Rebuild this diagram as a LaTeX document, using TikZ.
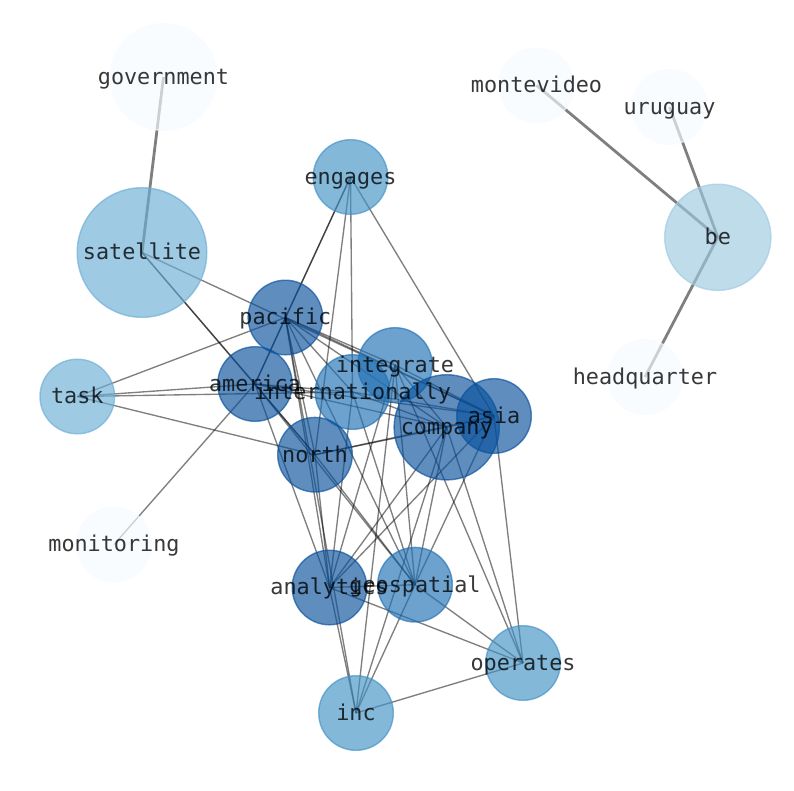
\documentclass[tikz,border=0pt]{standalone}
\usepackage{fontspec}
\newfontfamily\labfont{DejaVu Sans Mono}
\definecolor{bl0}{RGB}{247,251,255}
\definecolor{bl1}{RGB}{158,202,225}
\definecolor{bl2}{RGB}{107,174,214}
\definecolor{bl3}{RGB}{66,146,198}
\definecolor{bl4}{RGB}{33,113,181}
\definecolor{bl5}{RGB}{8,81,156}
\begin{document}
\begin{tikzpicture}[x=1pt,y=-1pt,
  ed/.style={draw=black,draw opacity=0.5,line width=1.35pt},
  edthick/.style={draw=black,draw opacity=0.5,line width=2.8pt},
  vtx/.style={circle,inner sep=0pt,fill opacity=0.65,draw opacity=0.65,line width=1.4pt},
  lab/.style={inner sep=0pt,text=black,text opacity=0.78,text height=20pt,text depth=5.2pt,
    font=\labfont\fontsize{21.8}{26}\selectfont}]
\fill[white] (0,0) rectangle (794,790);
\useasboundingbox (0,0) rectangle (794,790);
% centres
\coordinate (government) at (163.5,77);
\coordinate (satellite) at (142,252.5);
\coordinate (engages) at (350.5,177);
\coordinate (montevideo) at (536.5,85.3);
\coordinate (uruguay) at (669.5,107);
\coordinate (be) at (717.8,237.3);
\coordinate (pacific) at (285.4,317.5);
\coordinate (integrate) at (395,365);
\coordinate (task) at (77.3,396.5);
\coordinate (america) at (255,384);
\coordinate (internationally) at (352.5,392);
\coordinate (company) at (446.7,427.3);
\coordinate (asia) at (494,416);
\coordinate (headquarter) at (645,377);
\coordinate (north) at (315,454.7);
\coordinate (monitoring) at (114,544.5);
\coordinate (analytics) at (329.5,587.5);
\coordinate (geospatial) at (415,584.7);
\coordinate (operates) at (523,663);
\coordinate (inc) at (356,713);
% edges
\draw[edthick] (government) -- (satellite);
\draw[edthick] (montevideo) -- (be);
\draw[edthick] (uruguay) -- (be);
\draw[edthick] (headquarter) -- (be);
\foreach \a/\b in {satellite/america,satellite/north,satellite/asia,
  engages/pacific,engages/america,engages/north,engages/internationally,engages/asia,
  task/pacific,task/america,task/internationally,task/north,
  monitoring/america,
  pacific/america,pacific/integrate,pacific/internationally,pacific/company,pacific/asia,pacific/north,pacific/analytics,pacific/geospatial,pacific/inc,
  america/internationally,america/north,america/asia,america/company,america/analytics,america/geospatial,
  north/company,north/asia,north/analytics,north/geospatial,
  integrate/asia,integrate/company,integrate/analytics,integrate/geospatial,integrate/inc,integrate/operates,
  internationally/company,internationally/asia,internationally/analytics,internationally/geospatial,
  company/asia,company/analytics,company/geospatial,company/inc,company/operates,
  asia/analytics,asia/geospatial,asia/operates,
  analytics/geospatial,analytics/operates,analytics/inc,
  geospatial/operates,geospatial/inc,
  inc/operates}
  \draw[ed] (\a) -- (\b);
% vertices
\foreach \n/\c/\r in {government/bl0/54,satellite/bl2/65.5,engages/bl3/38,montevideo/bl0/38,
  uruguay/bl0/38,be/bl1/53.8,pacific/bl5/38,integrate/bl4/38,task/bl2/38,america/bl5/38,
  internationally/bl4/38,company/bl5/53.3,asia/bl5/38,headquarter/bl0/38,north/bl5/38,
  monitoring/bl0/38,analytics/bl5/38,geospatial/bl4/38,operates/bl3/38,inc/bl3/38}
  \node[vtx,fill=\c,draw=\c,minimum size={2*\r-1.4}] (\n-c) at (\n) {};
% labels
\foreach \n in {government,satellite,engages,montevideo,uruguay,be,pacific,integrate,task,
  america,internationally,company,asia,headquarter,north,monitoring,analytics,geospatial,operates,inc}
  \node[lab] (\n-l) at (\n) {\n};
\end{tikzpicture}
\end{document}
